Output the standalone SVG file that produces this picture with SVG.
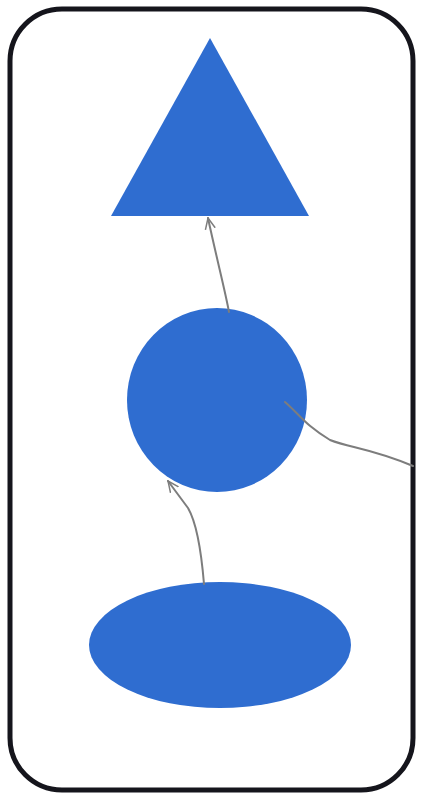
<svg xmlns="http://www.w3.org/2000/svg" width="421" height="797" viewBox="0 0 421 797">
<defs>
<style>
.shape{fill:#2f6dd0;}
.edge{fill:none;stroke:#7d7d7d;stroke-width:2;stroke-linecap:round;stroke-linejoin:round;}
.frame{fill:#ffffff;stroke:#15151c;stroke-width:5;}
</style>
<marker id="arrow" viewBox="0 0 12 12" refX="11" refY="6" markerWidth="12" markerHeight="12" markerUnits="userSpaceOnUse" orient="auto">
<path d="M0,1 L11,6 L0,11" fill="none" stroke="#7d7d7d" stroke-width="1.5"/>
</marker>
</defs>
<rect width="421" height="797" fill="#ffffff"/>
<rect class="frame" x="10" y="9" width="403" height="781" rx="52" ry="52"/>
<g id="triangle"><polygon class="shape" points="210,38 309,216 111,216"/></g>
<g id="circle"><ellipse class="shape" cx="217" cy="400" rx="90" ry="92"/></g>
<g id="ellipse"><ellipse class="shape" cx="220" cy="645" rx="131" ry="63"/></g>
<g id="connectors">
<path class="edge" d="M229,312 C225,290 217,260 208,218" marker-end="url(#arrow)"/>
<path class="edge" d="M204,584 C202,560 198,525 188,508 L168,481" marker-end="url(#arrow)"/>
<path class="edge" d="M285,402 C300,415 305,425 330,440 C350,448 370,448 413,466"/>
</g>
</svg>
